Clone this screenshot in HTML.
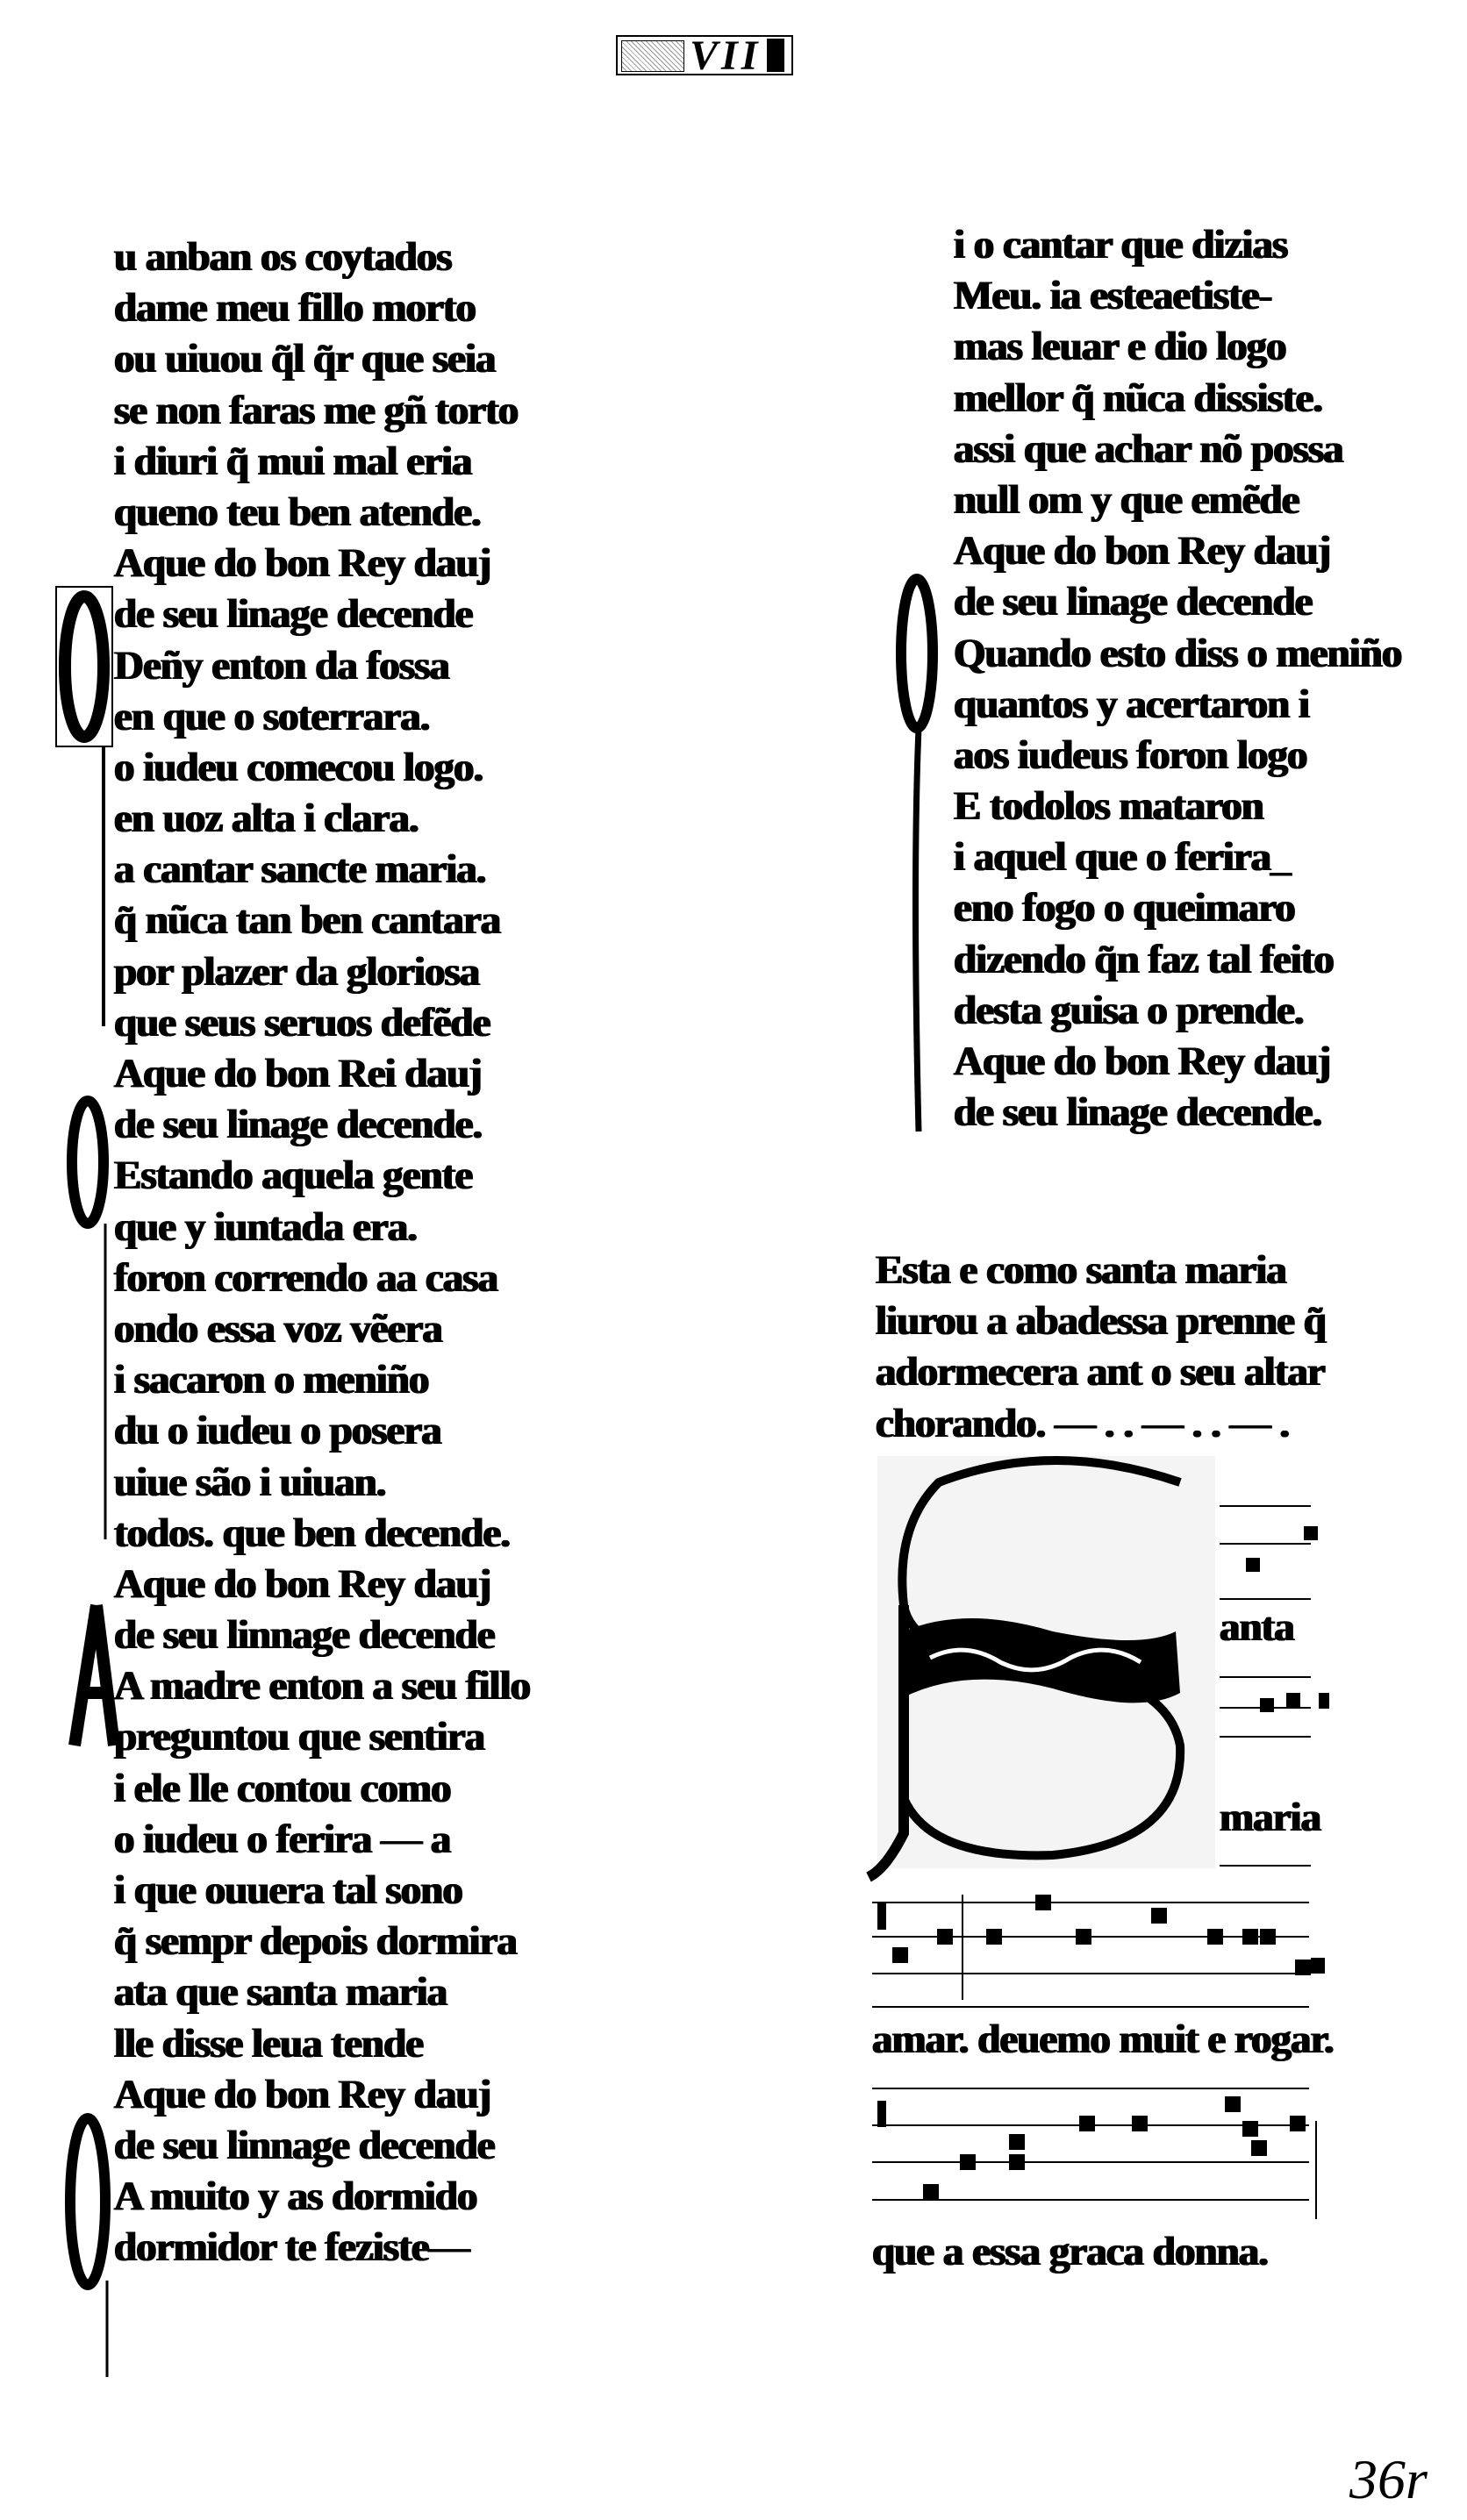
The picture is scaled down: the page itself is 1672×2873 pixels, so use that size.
<!DOCTYPE html>
<html><head><meta charset="utf-8"><style>
html,body{margin:0;padding:0;background:#fff;}
body{width:1672px;height:2873px;position:relative;overflow:hidden;font-family:"Liberation Serif",serif;color:#000;}
.col{position:absolute;font-weight:bold;font-size:47px;line-height:58.2px;white-space:nowrap;letter-spacing:-1px;text-shadow:1px 0 #000,-1px 0 #000;}
.col div{height:58.2px;}
.t{position:absolute;font-weight:bold;font-size:47px;white-space:nowrap;letter-spacing:-1px;text-shadow:1px 0 #000,-1px 0 #000;}
</style></head><body>

<div style="position:absolute;left:702px;top:40px;width:198px;height:42px;border:2px solid #000;background:#fff;">
  <div style="position:absolute;left:4px;top:4px;width:70px;height:34px;border:1px solid #000;background:repeating-linear-gradient(45deg,#fff 0 3px,#999 3px 4px);"></div>
  <div style="position:absolute;left:82px;top:-6px;font:bold 48px 'Liberation Serif',serif;font-style:italic;letter-spacing:4px;">VII</div>
  <div style="position:absolute;left:170px;top:2px;width:20px;height:38px;background:#000;"></div>
</div>

<div class="col" style="left:130px;top:264px;">
<div>u anban os coytados</div>
<div>dame meu fillo morto</div>
<div>ou uiuou q̃l q̃r que seia</div>
<div>se non faras me gñ torto</div>
<div>i diuri q̃ mui mal eria</div>
<div>queno teu ben atende.</div>
<div>Aque do bon Rey dauj</div>
<div>de seu linage decende</div>
<div>Deñy enton da fossa</div>
<div>en que o soterrara.</div>
<div>o iudeu comecou logo.</div>
<div>en uoz alta i clara.</div>
<div>a cantar sancte maria.</div>
<div>q̃ nũca tan ben cantara</div>
<div>por plazer da gloriosa</div>
<div>que seus seruos defẽde</div>
<div>Aque do bon Rei dauj</div>
<div>de seu linage decende.</div>
<div>Estando aquela gente</div>
<div>que y iuntada era.</div>
<div>foron correndo aa casa</div>
<div>ondo essa voz vẽera</div>
<div>i sacaron o meniño</div>
<div>du o iudeu o posera</div>
<div>uiue são i uiuan.</div>
<div>todos. que ben decende.</div>
<div>Aque do bon Rey dauj</div>
<div>de seu linnage decende</div>
<div>A madre enton a seu fillo</div>
<div>preguntou que sentira</div>
<div>i ele lle contou como</div>
<div>o iudeu o ferira — a</div>
<div>i que ouuera tal sono</div>
<div>q̃ sempr depois dormira</div>
<div>ata que santa maria</div>
<div>lle disse leua tende</div>
<div>Aque do bon Rey dauj</div>
<div>de seu linnage decende</div>
<div>A muito y as dormido</div>
<div>dormidor te feziste—</div>
</div>

<svg style="position:absolute;left:0;top:0" width="1672" height="2873">
  <rect x="64" y="669" width="64" height="182" fill="#fff" stroke="#000" stroke-width="2"/>
  <ellipse cx="96" cy="760" rx="22" ry="80" fill="none" stroke="#000" stroke-width="14"/>
  <line x1="118" y1="850" x2="118" y2="1170" stroke="#000" stroke-width="4"/>
  <ellipse cx="100" cy="1325" rx="18" ry="70" fill="none" stroke="#000" stroke-width="12"/>
  <line x1="120" y1="1395" x2="120" y2="1755" stroke="#000" stroke-width="3"/>
  <path d="M110 1830 L85 1990 M110 1830 L130 1990 M90 1930 L128 1930" stroke="#000" stroke-width="14" fill="none"/>
  <ellipse cx="100" cy="2510" rx="20" ry="95" fill="none" stroke="#000" stroke-width="12"/>
  <line x1="122" y1="2600" x2="122" y2="2710" stroke="#000" stroke-width="3"/>
  <ellipse cx="1045" cy="745" rx="18" ry="85" fill="none" stroke="#000" stroke-width="12"/>
  <path d="M1047 830 Q1040 1000 1047 1290" stroke="#000" stroke-width="7" fill="none"/>
</svg>

<div class="col" style="left:1087px;top:250px;">
<div>i o cantar que dizias</div>
<div>Meu. ia esteaetiste-</div>
<div>mas leuar e dio logo</div>
<div>mellor q̃ nũca dissiste.</div>
<div>assi que achar nõ possa</div>
<div>null om y que emẽde</div>
<div>Aque do bon Rey dauj</div>
<div>de seu linage decende</div>
<div>Quando esto diss o meniño</div>
<div>quantos y acertaron i</div>
<div>aos iudeus foron logo</div>
<div>E todolos mataron</div>
<div>i aquel que o ferira_</div>
<div>eno fogo o queimaro</div>
<div>dizendo q̃n faz tal feito</div>
<div>desta guisa o prende.</div>
<div>Aque do bon Rey dauj</div>
<div>de seu linage decende.</div>
</div>

<div class="col" style="left:998px;top:1419px;">
<div>Esta e como santa maria</div>
<div>liurou a abadessa prenne q̃</div>
<div>adormecera ant o seu altar</div>
<div>chorando. — . . — . . — .</div>
</div>

<svg style="position:absolute;left:0;top:0" width="1672" height="2873">
  <rect x="1000" y="1660" width="385" height="470" fill="#f4f4f4"/>
  <path d="M1345 1690 Q1200 1640 1070 1690 Q1020 1740 1030 1830 Q1040 1890 1180 1900 Q1330 1910 1345 1990 Q1350 2100 1200 2115 Q1060 2120 1030 2050" fill="none" stroke="#000" stroke-width="10"/>
  <path d="M1030 1860 Q1100 1830 1200 1860 Q1300 1880 1340 1860 L1345 1930 Q1300 1955 1200 1925 Q1100 1900 1030 1935 Z" fill="#000"/>
  <path d="M1060 1890 Q1100 1870 1140 1895 Q1180 1915 1220 1890 Q1260 1870 1300 1895" fill="none" stroke="#fff" stroke-width="5"/>
  <path d="M1030 1830 L1030 2090 Q1010 2130 990 2140" fill="none" stroke="#000" stroke-width="12"/>
  <g stroke="#000" stroke-width="2">
    <line x1="1390" y1="1717" x2="1494" y2="1717"/>
    <line x1="1390" y1="1760" x2="1494" y2="1760"/>
    <line x1="1390" y1="1823" x2="1494" y2="1823"/>
    <line x1="1390" y1="1912" x2="1494" y2="1912"/>
    <line x1="1390" y1="1947" x2="1494" y2="1947"/>
    <line x1="1390" y1="1980" x2="1494" y2="1980"/>
    <line x1="1390" y1="2127" x2="1494" y2="2127"/>
  </g>
  <g fill="#000">
    <rect x="1420" y="1776" width="16" height="16"/><rect x="1486" y="1740" width="16" height="16"/>
    <rect x="1436" y="1936" width="16" height="16"/><rect x="1466" y="1930" width="16" height="16"/><rect x="1503" y="1930" width="12" height="18"/>
  </g>
  <g stroke="#000" stroke-width="2">
    <line x1="994" y1="2169" x2="1492" y2="2169"/>
    <line x1="994" y1="2208" x2="1492" y2="2208"/>
    <line x1="994" y1="2250" x2="1492" y2="2250"/>
    <line x1="994" y1="2288" x2="1492" y2="2288"/>
    <line x1="994" y1="2381" x2="1492" y2="2381"/>
    <line x1="994" y1="2423" x2="1492" y2="2423"/>
    <line x1="994" y1="2465" x2="1492" y2="2465"/>
    <line x1="994" y1="2508" x2="1492" y2="2508"/>
    <line x1="1097" y1="2160" x2="1097" y2="2280"/>
    <line x1="1500" y1="2418" x2="1500" y2="2530"/>
  </g>
  <g fill="#000">
    <rect x="1000" y="2170" width="10" height="30"/>
    <rect x="1017" y="2220" width="18" height="18"/><rect x="1068" y="2199" width="18" height="18"/>
    <rect x="1124" y="2199" width="18" height="18"/><rect x="1180" y="2160" width="18" height="18"/>
    <rect x="1226" y="2199" width="18" height="18"/><rect x="1312" y="2175" width="18" height="18"/>
    <rect x="1376" y="2199" width="18" height="18"/><rect x="1416" y="2199" width="18" height="18"/>
    <rect x="1436" y="2199" width="18" height="18"/><rect x="1476" y="2234" width="18" height="18"/><rect x="1494" y="2232" width="16" height="18"/>
    <rect x="1000" y="2395" width="10" height="30"/>
    <rect x="1052" y="2490" width="18" height="18"/><rect x="1094" y="2456" width="18" height="18"/>
    <rect x="1150" y="2433" width="18" height="18"/><rect x="1150" y="2456" width="18" height="18"/>
    <rect x="1230" y="2412" width="18" height="18"/><rect x="1290" y="2412" width="18" height="18"/>
    <rect x="1396" y="2390" width="18" height="18"/><rect x="1416" y="2418" width="18" height="18"/>
    <rect x="1426" y="2440" width="18" height="18"/><rect x="1470" y="2412" width="18" height="18"/>
  </g>
</svg>
<div class="t" style="left:1390px;top:1828px;">anta</div>
<div class="t" style="left:1390px;top:2045px;">maria</div>
<div class="t" style="left:994px;top:2298px;">amar. deuemo muit e rogar.</div>
<div class="t" style="left:994px;top:2540px;">que a essa graca donna.</div>

<div style="position:absolute;left:1538px;top:2790px;font:italic 64px 'Liberation Serif',serif;">36r</div>
</body></html>
